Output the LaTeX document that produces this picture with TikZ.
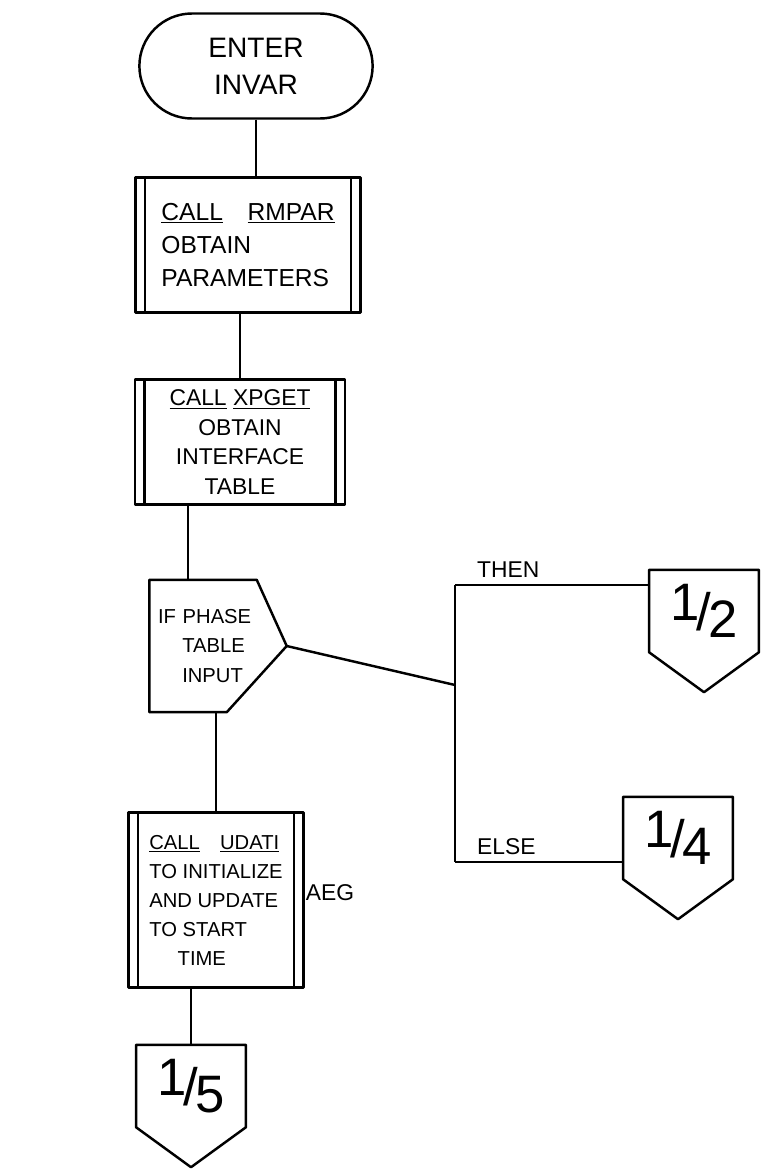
\documentclass[tikz,border=0pt]{standalone}
\usepackage{fontspec}
\setmainfont{Liberation Sans}
\usetikzlibrary{shapes.misc}

\newcommand{\frc}[2]{\raisebox{.35ex}{#1}\kern-.05em/\kern-.05em\raisebox{-.25ex}{#2}}

\begin{document}
\begin{tikzpicture}[x=0.02cm, y=-0.02cm, line width=1.4pt, line join=round,
    every node/.style={font=\fontsize{14}{19}\selectfont},
    terminal/.style={draw, rounded rectangle, minimum width=4.9cm, minimum height=2.1cm, align=center,
        font=\fontsize{16}{21}\selectfont},
    process/.style={draw, rectangle, inner sep=0pt,
        path picture={
            \draw[line width=1.4pt] ([xshift=5.5pt]path picture bounding box.north west) -- ([xshift=5.5pt]path picture bounding box.south west)
                ([xshift=-5.5pt]path picture bounding box.north east) -- ([xshift=-5.5pt]path picture bounding box.south east);}},
    decision/.style={rectangle, align=left, inner sep=0pt, minimum width=2.7cm, minimum height=2.6cm,
        text width=2.4cm, font=\fontsize{11.5}{17}\selectfont},
    offpage/.style={minimum width=2.15cm, minimum height=1.6cm, inner sep=0pt, font=\fontsize{30}{30}\selectfont},
    lbl/.style={font=\fontsize{13}{15}\selectfont}]
    \useasboundingbox (0,0) rectangle (762,1170);

    % main column
    \node[terminal] (start) at (256,66) {ENTER\\INVAR};
    \node[process, minimum width=4.5cm, minimum height=2.7cm, align=left] (rmpar) at (248,245)
        {\underline{CALL}\quad\underline{RMPAR}\\OBTAIN\\PARAMETERS};
    \node[process, minimum width=4.2cm, minimum height=2.5cm, align=center,
          font=\fontsize{13}{17}\selectfont] (xpget) at (240,442)
        {\underline{CALL} \underline{XPGET}\\OBTAIN\\INTERFACE\\TABLE};
    \node[decision] (phase) at (218,646) {IF PHASE\\\hspace{1.2em}TABLE\\\hspace{1.2em}INPUT};
    \draw (phase.north west) -- ([xshift=-0.6cm]phase.north east) -- (phase.east)
        -- ([xshift=-1.2cm]phase.south east) -- (phase.south west) -- cycle;
    \node[process, minimum width=3.5cm, minimum height=3.5cm, align=left,
          font=\fontsize{11.5}{16.5}\selectfont] (udati) at (216,900)
        {\underline{CALL}\quad\underline{UDATI}\\TO INITIALIZE\\AND UPDATE\\TO START\\\hspace{1.4em}TIME};
    \node[lbl] (aeg) at (330,893) {AEG};

    % off-page connectors
    \node[offpage] (c12) at (704,611) {\frc{1}{2}};
    \node[offpage] (c14) at (678,838) {\frc{1}{4}};
    \node[offpage] (c15) at (191,1086) {\frc{1}{5}};
    \foreach \c in {c12,c14,c15}
        \draw (\c.north west) -- (\c.north east) -- (\c.south east)
            -- ([yshift=-0.8cm]\c.south) -- (\c.south west) -- cycle;

    % branch points
    \coordinate (jn) at (455,685);
    \coordinate (then) at (455,585);
    \coordinate (else) at (455,862);
    \node[lbl, anchor=south west] (thenlbl) at ([xshift=0.3cm]then) {THEN};
    \node[lbl, anchor=south west] (elselbl) at ([xshift=0.3cm]else) {ELSE};

    % flow lines
    \draw (start.south) -- (start.south |- rmpar.north);
    \draw (xpget.north |- rmpar.south) -- (xpget.north);
    \draw ([xshift=-0.6cm]phase.north |- xpget.south) -- ([xshift=-0.6cm]phase.north);
    \draw (udati.north |- phase.south) -- (udati.north);
    \draw (c15.north |- udati.south) -- (c15.north);
    \draw (phase.east) -- (jn);
    \draw (then) -- (else);
    \draw (then) -- (then -| c12.west);
    \draw (else) -- (else -| c14.west);
\end{tikzpicture}
\end{document}
